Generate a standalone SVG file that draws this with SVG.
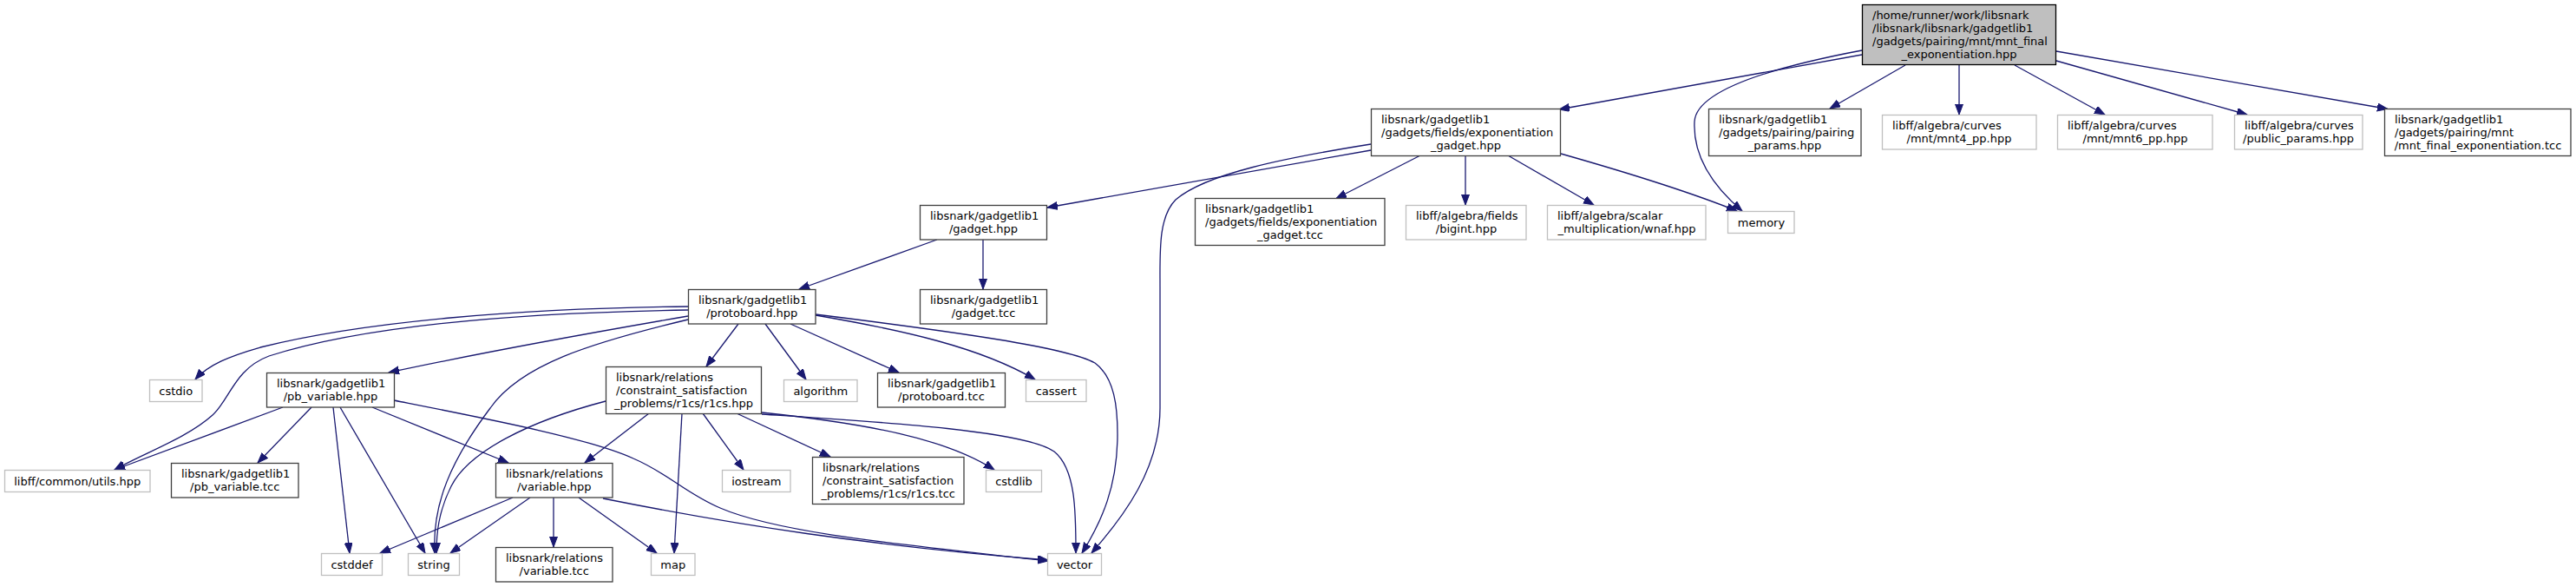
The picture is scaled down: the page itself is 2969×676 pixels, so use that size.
<svg xmlns="http://www.w3.org/2000/svg" width="2969" height="676" viewBox="0 0 2969 676">
<style>
text{font-family:"DejaVu Sans","Liberation Sans",sans-serif;font-size:13px;fill:#000}
.l{text-anchor:start}
.c{text-anchor:middle}
.n rect{fill:#fff;stroke:#404040;stroke-width:1.3}
.g rect{fill:#fff;stroke:#bfbfbf;stroke-width:1.3}
.r rect{fill:#bfbfbf;stroke:#000;stroke-width:1.3}
.e path{fill:none;stroke:#191970;stroke-width:1.3;marker-end:url(#ah)}
</style>
<defs>
<marker id="ah" markerWidth="13" markerHeight="10" refX="12" refY="4.5" orient="auto" markerUnits="userSpaceOnUse">
<path d="M0,0 L12,4.5 L0,9 z" fill="#191970" stroke="#191970" stroke-width="1"/>
</marker>
</defs>
<rect width="2969" height="676" fill="#fff"/>
<g class="e" id="edges">
<path d="M2146,63 L1797,126"/>
<path d="M2146,58 C2040,78 1955,105 1953,140 C1951,180 1975,215 2008,243"/>
<path d="M2196,75 L2109,125"/>
<path d="M2258,75 L2258,132"/>
<path d="M2322,75 L2426,132"/>
<path d="M2370,70 L2590,132"/>
<path d="M2370,59 L2752,125.5"/>
<path d="M1580,173 L1207,239"/>
<path d="M1580,166 C1480,182 1390,200 1355,230 C1335,250 1337,290 1337,330 L1337,470 C1337,540 1295,595 1258,637"/>
<path d="M1637,179 L1540,228.5"/>
<path d="M1689,179 L1689,236"/>
<path d="M1738,179 L1837,236"/>
<path d="M1799,177 C1880,200 1950,222 2002,243"/>
<path d="M1080,276 L921,333"/>
<path d="M1133,276 L1133,333"/>
<path d="M793,353 C600,355 420,370 300,400 C265,410 240,420 225,437"/>
<path d="M793,357 C600,360 420,375 310,410 C270,425 265,460 245,478 C215,505 165,522 132,541"/>
<path d="M793,364 C700,380 560,405 448,429"/>
<path d="M793,368 C680,395 600,420 565,470 C520,530 498,580 501,637"/>
<path d="M851,373 L814,422"/>
<path d="M882,373 L929,437"/>
<path d="M911,373 L1036,429"/>
<path d="M940,363 C1040,380 1130,400 1193,437"/>
<path d="M940,362 C1100,382 1230,400 1262,418 C1285,435 1288,470 1288,500 C1288,560 1270,600 1247,637"/>
<path d="M326,469 L132,541"/>
<path d="M359,469 L297,533"/>
<path d="M384,469 L403,637"/>
<path d="M392,469 L490,637"/>
<path d="M429,469 L586,533"/>
<path d="M454,461 C560,482 680,505 730,528 C770,545 790,568 830,585 C900,615 1050,628 1208,646"/>
<path d="M591,573 L438,637"/>
<path d="M611,573 L519,637"/>
<path d="M638,573 L638,630"/>
<path d="M667,573 L757,637"/>
<path d="M695,574 C850,605 1000,628 1208,645"/>
<path d="M698,462 C610,485 540,520 520,560 C505,590 503,615 503,637"/>
<path d="M748,476 L674,533"/>
<path d="M786,476 L777,637"/>
<path d="M810,476 L857,541"/>
<path d="M849,476 L957,526"/>
<path d="M878,475 C1000,488 1090,505 1146,541"/>
<path d="M878,477 C1000,485 1180,495 1215,520 C1240,540 1240,590 1240,637"/>
</g>
<g id="root" class="r"><rect x="2146.5" y="5.5" width="223" height="69"/>
<text class="l" x="2158" y="22">/home/runner/work/libsnark</text>
<text class="l" x="2158" y="37">/libsnark/libsnark/gadgetlib1</text>
<text class="l" x="2158" y="52">/gadgets/pairing/mnt/mnt_final</text>
<text class="c" x="2258" y="67">_exponentiation.hpp</text></g>
<g id="exp_hpp" class="n"><rect x="1580.5" y="125.5" width="218" height="54"/>
<text class="l" x="1592" y="142">libsnark/gadgetlib1</text>
<text class="l" x="1592" y="157">/gadgets/fields/exponentiation</text>
<text class="c" x="1689.5" y="172">_gadget.hpp</text></g>
<g id="pairing_params" class="n"><rect x="1969.5" y="125.5" width="175.5" height="54"/>
<text class="l" x="1981" y="142">libsnark/gadgetlib1</text>
<text class="l" x="1981" y="157">/gadgets/pairing/pairing</text>
<text class="c" x="2057" y="172">_params.hpp</text></g>
<g id="mnt4" class="g"><rect x="2169.5" y="132.5" width="177.5" height="39.5"/>
<text class="l" x="2181" y="149.25">libff/algebra/curves</text>
<text class="c" x="2258" y="164.25">/mnt/mnt4_pp.hpp</text></g>
<g id="mnt6" class="g"><rect x="2371.5" y="132.5" width="178.5" height="39.5"/>
<text class="l" x="2383" y="149.25">libff/algebra/curves</text>
<text class="c" x="2461" y="164.25">/mnt/mnt6_pp.hpp</text></g>
<g id="public_params" class="g"><rect x="2575.5" y="132.5" width="147.5" height="39.5"/>
<text class="l" x="2587" y="149.25">libff/algebra/curves</text>
<text class="c" x="2649" y="164.25">/public_params.hpp</text></g>
<g id="mnt_final_tcc" class="n"><rect x="2748.5" y="125.5" width="214.5" height="54"/>
<text class="l" x="2760" y="142">libsnark/gadgetlib1</text>
<text class="l" x="2760" y="157">/gadgets/pairing/mnt</text>
<text class="c" x="2856" y="172">/mnt_final_exponentiation.tcc</text></g>
<g id="gadget_hpp" class="n"><rect x="1060.5" y="236.5" width="146" height="39.5"/>
<text class="l" x="1072" y="253.25">libsnark/gadgetlib1</text>
<text class="c" x="1133.5" y="268.25">/gadget.hpp</text></g>
<g id="exp_tcc" class="n"><rect x="1377.5" y="228.5" width="218.5" height="54"/>
<text class="l" x="1389" y="245">libsnark/gadgetlib1</text>
<text class="l" x="1389" y="260">/gadgets/fields/exponentiation</text>
<text class="c" x="1487" y="275">_gadget.tcc</text></g>
<g id="bigint" class="g"><rect x="1620.5" y="236.5" width="138.5" height="39.5"/>
<text class="l" x="1632" y="253.25">libff/algebra/fields</text>
<text class="c" x="1690" y="268.25">/bigint.hpp</text></g>
<g id="wnaf" class="g"><rect x="1783.5" y="236.5" width="182.5" height="39.5"/>
<text class="l" x="1795" y="253.25">libff/algebra/scalar</text>
<text class="c" x="1875" y="268.25">_multiplication/wnaf.hpp</text></g>
<g id="memory" class="g"><rect x="1991.5" y="243.5" width="76.5" height="25"/>
<text class="c" x="2030" y="260.5">memory</text></g>
<g id="protoboard_hpp" class="n"><rect x="793.5" y="333.5" width="146.5" height="39.5"/>
<text class="l" x="805" y="350.25">libsnark/gadgetlib1</text>
<text class="c" x="866.75" y="365.25">/protoboard.hpp</text></g>
<g id="gadget_tcc" class="n"><rect x="1060.5" y="333.5" width="146" height="39.5"/>
<text class="l" x="1072" y="350.25">libsnark/gadgetlib1</text>
<text class="c" x="1133.5" y="365.25">/gadget.tcc</text></g>
<g id="cstdio" class="g"><rect x="172.5" y="437.5" width="60.5" height="25"/>
<text class="c" x="202.75" y="454.5">cstdio</text></g>
<g id="pb_variable_hpp" class="n"><rect x="307.5" y="429.5" width="147" height="39.5"/>
<text class="l" x="319" y="446.25">libsnark/gadgetlib1</text>
<text class="c" x="381" y="461.25">/pb_variable.hpp</text></g>
<g id="r1cs_hpp" class="n"><rect x="698.5" y="422.5" width="179" height="54"/>
<text class="l" x="710" y="439">libsnark/relations</text>
<text class="l" x="710" y="454">/constraint_satisfaction</text>
<text class="c" x="788" y="469">_problems/r1cs/r1cs.hpp</text></g>
<g id="algorithm" class="g"><rect x="903.5" y="437.5" width="84.5" height="25"/>
<text class="c" x="945.75" y="454.5">algorithm</text></g>
<g id="protoboard_tcc" class="n"><rect x="1011.5" y="429.5" width="147" height="39.5"/>
<text class="l" x="1023" y="446.25">libsnark/gadgetlib1</text>
<text class="c" x="1085" y="461.25">/protoboard.tcc</text></g>
<g id="cassert" class="g"><rect x="1182.5" y="437.5" width="69.5" height="25"/>
<text class="c" x="1217.25" y="454.5">cassert</text></g>
<g id="utils" class="g"><rect x="5.5" y="541.5" width="167.5" height="25"/>
<text class="c" x="89.25" y="558.5">libff/common/utils.hpp</text></g>
<g id="pb_variable_tcc" class="n"><rect x="197.5" y="533.5" width="146.5" height="39.5"/>
<text class="l" x="209" y="550.25">libsnark/gadgetlib1</text>
<text class="c" x="270.75" y="565.25">/pb_variable.tcc</text></g>
<g id="variable_hpp" class="n"><rect x="571.5" y="533.5" width="134.5" height="39.5"/>
<text class="l" x="583" y="550.25">libsnark/relations</text>
<text class="c" x="638.75" y="565.25">/variable.hpp</text></g>
<g id="iostream" class="g"><rect x="832.5" y="541.5" width="78.5" height="25"/>
<text class="c" x="871.75" y="558.5">iostream</text></g>
<g id="r1cs_tcc" class="n"><rect x="936.5" y="526.5" width="174.5" height="54"/>
<text class="l" x="948" y="543">libsnark/relations</text>
<text class="l" x="948" y="558">/constraint_satisfaction</text>
<text class="c" x="1023.75" y="573">_problems/r1cs/r1cs.tcc</text></g>
<g id="cstdlib" class="g"><rect x="1136.5" y="541.5" width="64" height="25"/>
<text class="c" x="1168.5" y="558.5">cstdlib</text></g>
<g id="cstddef" class="g"><rect x="370.5" y="637.5" width="70" height="25"/>
<text class="c" x="405.5" y="654.5">cstddef</text></g>
<g id="string" class="g"><rect x="470.5" y="637.5" width="59" height="25"/>
<text class="c" x="500" y="654.5">string</text></g>
<g id="variable_tcc" class="n"><rect x="571.5" y="630.5" width="134.5" height="39.5"/>
<text class="l" x="583" y="647.25">libsnark/relations</text>
<text class="c" x="638.75" y="662.25">/variable.tcc</text></g>
<g id="map" class="g"><rect x="750.5" y="637.5" width="50.5" height="25"/>
<text class="c" x="775.75" y="654.5">map</text></g>
<g id="vector" class="g"><rect x="1207.5" y="637.5" width="62" height="25"/>
<text class="c" x="1238.5" y="654.5">vector</text></g>
</svg>
